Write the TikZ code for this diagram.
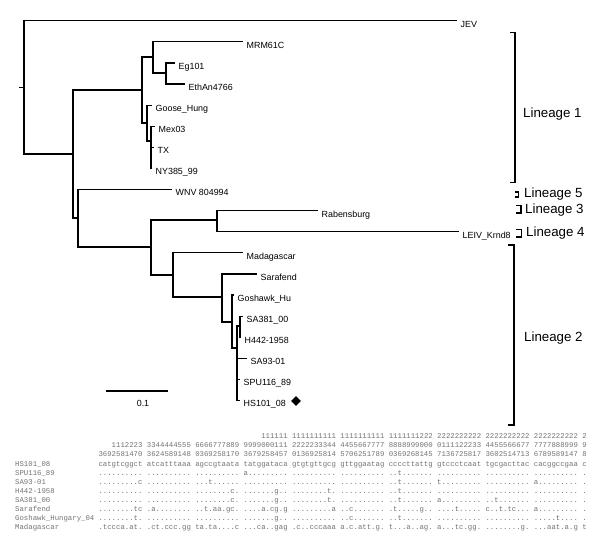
\documentclass[tikz,border=0pt]{standalone}
\usepackage{fontspec}
\setmainfont{Liberation Sans}
\setmonofont{Liberation Mono}
\usepackage{tikz}
\usetikzlibrary{positioning,shapes.geometric}

\begin{document}
\begin{tikzpicture}[x=1pt,y=-1pt,
    branch/.style={line width=1.2pt},
    taxon/.style={anchor=north west,inner sep=0pt,font=\fontsize{8.9}{10}\selectfont},
    lineage/.style={anchor=west,inner sep=0pt,font=\fontsize{13.3}{15}\selectfont},
    seqname/.style={anchor=base west,inner sep=0pt,text=black!55,font=\ttfamily\fontsize{7.33}{8}\selectfont},
    seqrow/.style={anchor=base east,inner sep=0pt,text=black!55,font=\ttfamily\fontsize{7.33}{8}\selectfont}]
        \useasboundingbox (0,0) rectangle (600,549);

        % Leaves of the tree
        \foreach \k/\tx/\lab/\nm in {0/457/JEV/jev, 1/243/MRM61C/mrm, 2/175/Eg101/eg,
            3/185/EthAn4766/eth, 4/152/Goose\_Hung/goose, 5/155/Mex03/mex, 6/154/TX/tx,
            7/152/NY385\_99/ny, 8/172/WNV 804994/wnv, 9/318/Rabensburg/rab,
            10/459/LEIV\_Krnd8/leiv, 11/243/Madagascar/mad, 12/257/Sarafend/sara,
            13/234/Goshawk\_Hu/gosh, 14/243/SA381\_00/sa381, 15/241/H442-1958/h442,
            16/247/SA93-01/sa93, 17/240/SPU116\_89/spu, 18/240/HS101\_08/hs} {
          \coordinate (t\k) at (\tx,20.7+21.1*\k);
          \node[taxon] (\nm) at ([xshift=3.5pt]t\k) {\lab};
        }

        % Inner nodes
        \coordinate (stem) at (19,87.3);
        \coordinate (root) at (24,87.3);
        \coordinate (nA) at (73,154);
        \coordinate (nL1) at (142,90);
        \coordinate (nM) at (153,57);
        \coordinate (nEg) at (166,73);
        \coordinate (nN) at (147,123);
        \coordinate (nO) at (151,141);
        \coordinate (nB) at (78,218);
        \coordinate (nC) at (151,247);
        \coordinate (nD) at (217,220);
        \coordinate (nE) at (173,275);
        \coordinate (nF) at (222,297);
        \coordinate (nG) at (232,322);
        \coordinate (nH) at (237,348);
        \coordinate (nI) at (240,326);

        % Branches
        \draw[branch] (stem) -- (root);
        \foreach \p/\c in {root/t0, root/nA, nA/nL1, nA/nB, nL1/nM, nL1/nN, nM/t1, nM/nEg,
            nEg/t2, nEg/t3, nN/t4, nN/nO, nO/t5, nO/t6, nO/t7, nB/t8, nB/nC, nC/nD, nC/nE,
            nD/t9, nD/t10, nE/t11, nE/nF, nF/t12, nF/nG, nG/t13, nG/nH, nH/nI, nH/t16,
            nH/t17, nH/t18, nI/t14, nI/t15}
          \draw[branch] (\p) |- (\c);

        % Marked sequence
        \node[diamond,fill=black,inner sep=0pt,minimum size=10pt] (mark) at (296,401) {};

        % Scale bar
        \coordinate (sb1) at (106,391);
        \coordinate (sb2) at (168,391);
        \draw[branch] (sb1) -- (sb2);
        \node[font=\fontsize{8.9}{10}\selectfont,inner sep=0pt] (sbl) at (143,403) {0.1};

        % Lineage brackets
        \draw[branch] (510,32.3) -| (515,182.7) -- (510,182.7);
        \draw[branch] (515,192) -| (518.5,197) -- (515,197);
        \draw[branch] (515.5,205.5) -| (521,213) -- (515.5,213);
        \draw[branch] (516,229.5) -| (521.5,237) -- (516,237);
        \draw[branch] (508,245) -| (514,425) -- (508,425);
        \node[lineage] (lin1) at (523,114) {Lineage 1};
        \node[lineage] (lin5) at (524,194.5) {Lineage 5};
        \node[lineage] (lin3) at (525,210.5) {Lineage 3};
        \node[lineage] (lin4) at (526,233.5) {Lineage 4};
        \node[lineage] (lin2) at (524,338) {Lineage 2};

        % Alignment of variable sites
        \node[seqrow] (pos0) at (587,438.4) {111111 1111111111 1111111111 1111111222 2222222222 2222222222 2222222222 2};
        \node[seqrow] (pos1) at (587,447.5) {1112223 3344444555 6666777889 9999000111 2222233344 4455667777 8888999000 0111122233 4455566677 7777888999 9};
        \node[seqrow] (pos2) at (587,456.6) {3692581470 3624589148 0369258170 3679258457 0136925814 5706251789 0369268145 7136725817 3602514713 6789589147 8};

        \node[seqname] (nm0) at (15,466.2) {HS101\_08};
        \node[seqrow] (sq0) at (587,466.2) {catgtcggct atcatttaaa agccgtaata tatggataca gtgtgttgcg gttggaatag ccccttattg gtccctcaat tgcgacttac cacggccgaa c};
        \node[seqname] (nm1) at (15,475.25) {SPU116\_89};
        \node[seqrow] (sq1) at (587,475.25) {.......... .......... .......... a......... .......... .......... ..t....... .......... .......... .......... .};
        \node[seqname] (nm2) at (15,484.3) {SA93-01};
        \node[seqrow] (sq2) at (587,484.3) {.........c .......... ...t...... .......... .......... .......... ..t....... t......... .......... a......... .};
        \node[seqname] (nm3) at (15,493.35) {H442-1958};
        \node[seqrow] (sq3) at (587,493.35) {.......... .......... ........c. .......g.. ........t. .......... ..t....... .......... .......... .......... .};
        \node[seqname] (nm4) at (15,502.4) {SA381\_00};
        \node[seqrow] (sq4) at (587,502.4) {.......... .......... ........c. .......g.. ........t. .......... ..t....... a......... ..t....... .......... .};
        \node[seqname] (nm5) at (15,511.45) {Sarafend};
        \node[seqrow] (sq5) at (587,511.45) {........tc .a........ ..t.aa.gc. ....a.cg.g .........a ..c....... .t.....g.. ....t..... c..t.tc... a......... .};
        \node[seqname] (nm6) at (15,520.5) {Goshawk\_Hungary\_04};
        \node[seqrow] (sq6) at (587,520.5) {........t. .......... .......... .......g.. .......... ..c....... ..t....... .......... .......... .....t.... .};
        \node[seqname] (nm7) at (15,529.55) {Madagascar};
        \node[seqrow] (sq7) at (587,529.55) {.tccca.at. .ct.ccc.gg ta.ta....c ...ca..gag .c..cccaaa a.c.att.g. t...a..ag. a...tc.gg. ........g. ...aat.a.g t};
      \end{tikzpicture}
\end{document}
